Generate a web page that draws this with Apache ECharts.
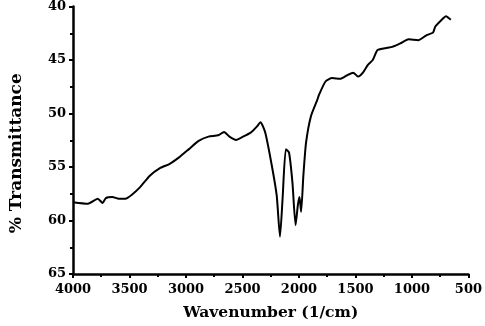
<!DOCTYPE html>
<html lang="en" style="height: 100%">
<head>
    <meta charset="UTF-8">
    <title>FTIR spectrum</title>
    <script src="https://cdn.jsdelivr.net/npm/echarts@6/dist/echarts.min.js"></script>
</head>
<body style="height: 100%; margin: 0">
<div id="main" style="width: 485px; height: 326px"></div>
<script>
    // spectrum: wavenumber (1/cm) and % transmittance
    var wavenumber = [4000, 3868, 3781, 3738, 3709, 3652, 3594, 3536, 3479, 3406,
        3320, 3234, 3147, 3061, 2974, 2888, 2801, 2715, 2663, 2615,
        2557, 2499, 2427, 2369, 2341, 2298, 2240, 2197, 2168, 2145,
        2116, 2088, 2058, 2030, 2010, 1995, 1981, 1961, 1937, 1894,
        1837, 1822, 1765, 1707, 1635, 1578, 1520, 1477, 1434, 1390,
        1347, 1304, 1218, 1174, 1103, 1030, 944, 872, 814, 792,
        742, 699, 685, 656];
    var transmittance = [58.29, 58.43, 57.96, 58.36, 57.90, 57.81, 57.96, 57.96, 57.59, 56.88,
        55.81, 55.12, 54.72, 54.10, 53.33, 52.56, 52.16, 52.04, 51.73, 52.16,
        52.47, 52.19, 51.79, 51.18, 50.81, 51.79, 54.88, 57.66, 61.51, 57.96,
        53.33, 53.64, 56.42, 60.44, 58.58, 57.81, 59.19, 55.81, 52.71, 50.25,
        48.70, 48.24, 47.01, 46.69, 46.76, 46.45, 46.18, 46.55, 46.18, 45.46,
        45.00, 44.07, 43.86, 43.77, 43.45, 43.06, 43.15, 42.69, 42.44, 41.85,
        41.30, 40.90, 40.99, 41.23];

    var points = wavenumber.map(function (w, i) { return [w, transmittance[i]]; });

    var serif = 'DejaVu Serif';
    var tickFont = {
        fontFamily: serif,
        fontWeight: 'bold',
        fontSize: 13,
        color: '#000',
        formatter: function (v) { return String(v); }
    };

    var myoption = {
        animation: false,
        grid: {left: 67, right: 11, top: 6, bottom: 50},
        xAxis: {
            type: 'value',
            inverse: true,
            min: 500,
            max: 4000,
            interval: 500,
            name: 'Wavenumber (1/cm)',
            nameLocation: 'middle',
            nameGap: 31,
            nameTextStyle: {fontFamily: serif, fontWeight: 'bold', fontSize: 15.5, color: '#000'},
            axisLine: {lineStyle: {color: '#000', width: 2.5}},
            axisTick: {length: 4, lineStyle: {color: '#000', width: 2}},
            minorTick: {show: true, splitNumber: 2, length: 3, lineStyle: {color: '#000', width: 2}},
            axisLabel: Object.assign({margin: 9}, tickFont),
            splitLine: {show: false}
        },
        yAxis: {
            type: 'value',
            inverse: true,
            min: 40,
            max: 65,
            interval: 5,
            name: '% Transmittance',
            nameLocation: 'middle',
            nameGap: 48,
            nameTextStyle: {fontFamily: serif, fontWeight: 'bold', fontSize: 17, color: '#000', padding: [0, 26, 0, 0]},
            axisLine: {lineStyle: {color: '#000', width: 2.5}},
            axisTick: {length: 4, lineStyle: {color: '#000', width: 2}},
            minorTick: {show: true, splitNumber: 2, length: 3, lineStyle: {color: '#000', width: 2}},
            axisLabel: Object.assign({margin: 7}, tickFont),
            splitLine: {show: false}
        },
        series: [{
            type: 'line',
            data: points,
            showSymbol: false,
            smooth: 0.2,
            lineStyle: {color: '#000', width: 2}
        }]
    };
    var myChart = echarts.init(document.getElementById('main'));
    myChart.setOption(myoption);
</script>
</body>
</html>
